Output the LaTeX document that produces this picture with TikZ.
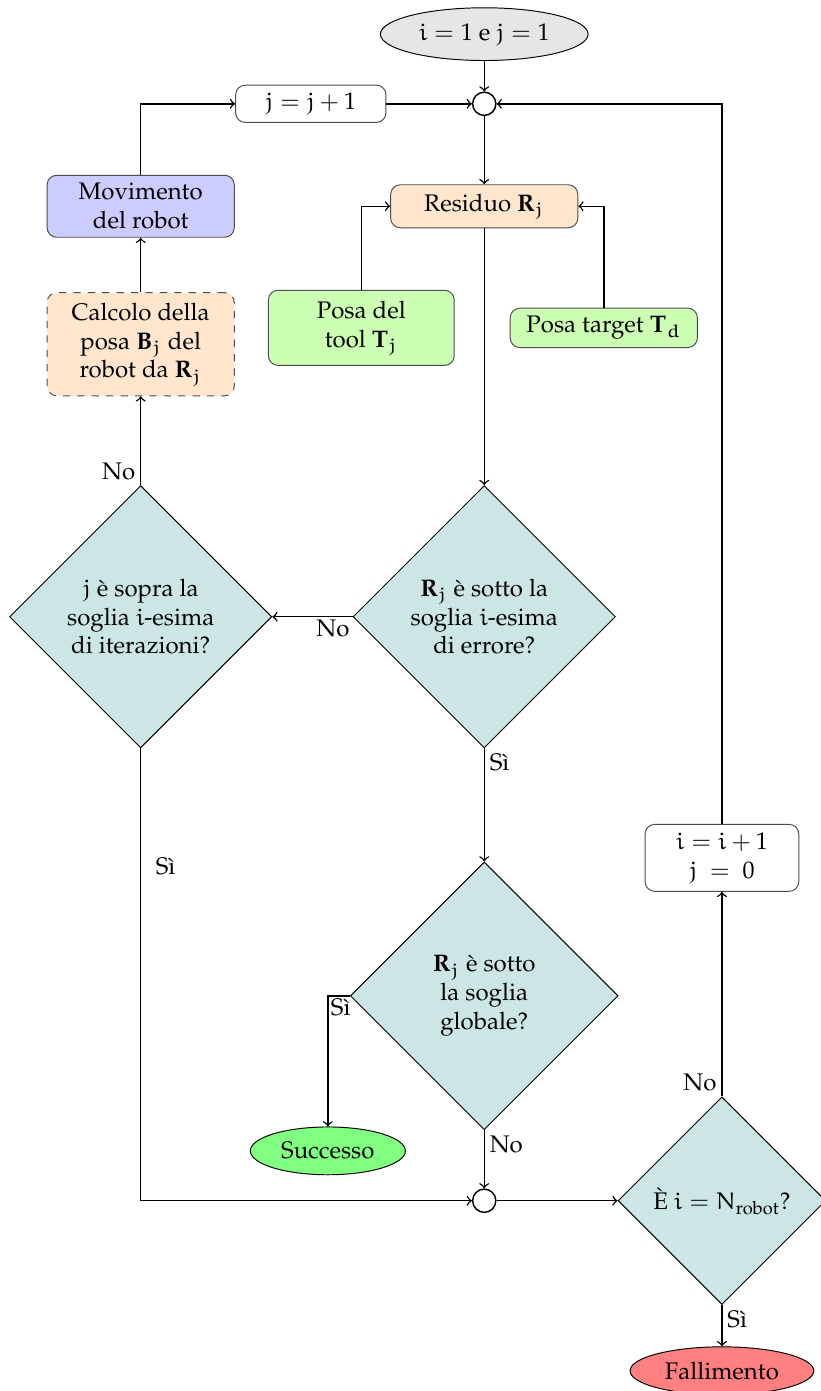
\documentclass[tikz,border=0pt]{standalone}
\usepackage[T1]{fontenc}
\usepackage{mathpazo}
\DeclareSymbolFont{letters}{U}{eur}{m}{n}
\SetSymbolFont{letters}{bold}{U}{eur}{b}{n}
\usepackage{tikz}
\usetikzlibrary{shapes.geometric}
\definecolor{startgray}{HTML}{E6E6E6}
\definecolor{movblue}{HTML}{CCCCFF}
\definecolor{calcorange}{HTML}{FFE6CC}
\definecolor{posegreen}{HTML}{CCFFB3}
\definecolor{decteal}{HTML}{CCE5E5}
\definecolor{okgreen}{HTML}{80FF80}
\definecolor{kored}{HTML}{FF8080}

\begin{document}
\begin{tikzpicture}[
		block/.style={rectangle, rounded corners=4pt, draw=black!70, thin, align=center, minimum width=2.74cm},
		decision/.style={diamond, aspect=1, draw, thin, fill=decteal, align=center, inner sep=1pt},
		terminal/.style={ellipse, draw, thin, align=center},
		junction/.style={circle, draw, semithick, fill=white, minimum size=0.34cm, inner sep=0pt},
		flow/.style={->, semithick}
	]
	\useasboundingbox (0,0) rectangle (12.006,-20.366);

	% ingresso e nodi di raccordo
	\node[terminal, fill=startgray, minimum width=3.02cm, minimum height=0.76cm] (start) at (7.09,-0.50) {$i = 1$ e $j = 1$};
	\node[junction] (c1) at (7.09,-1.52) {};
	\node[block, minimum width=2.2cm, minimum height=0.54cm] (jinc) at (4.55,-1.52) {$j = j + 1$};

	% residuo e pose
	\node[block, fill=movblue, minimum height=0.89cm] (mov) at (2.06,-3.02) {Movimento\\ del robot};
	\node[block, fill=calcorange, minimum height=0.63cm] (res) at (7.09,-3.02) {Residuo $\mathbf{R}_j$};
	\node[block, fill=posegreen, minimum width=2.72cm, minimum height=1.10cm] (tool) at (5.29,-4.80) {Posa del\\ tool $\mathbf{T}_j$};
	\node[block, fill=posegreen, minimum height=0.56cm] (target) at (8.84,-4.80) {Posa target $\mathbf{T}_d$};
	\node[block, dashed, fill=calcorange, minimum height=1.51cm] (calc) at (2.06,-5.04) {Calcolo della\\ posa $\mathbf{B}_j$ del\\ robot da $\mathbf{R}_j$};

	% decisioni
	\node[decision, minimum size=3.84cm] (iter) at (2.06,-9.03) {$j$ \`e sopra la\\ soglia $i$-esima\\ di iterazioni?};
	\node[decision, minimum size=3.84cm] (err) at (7.09,-9.03) {$\mathbf{R}_j$ \`e sotto la\\ soglia $i$-esima\\ di errore?};
	\node[block, minimum width=2.25cm, minimum height=0.98cm] (iinc) at (10.57,-12.56) {$i = i + 1$\\ $j\ =\ 0$};
	\node[decision, minimum size=3.92cm] (glob) at (7.09,-14.58) {$\mathbf{R}_j$ \`e sotto\\ la soglia\\ globale?};
	\node[terminal, fill=okgreen, minimum width=2.27cm, minimum height=0.70cm] (succ) at (4.80,-16.85) {Successo};
	\node[junction] (c2) at (7.09,-17.58) {};
	\node[decision, minimum size=3.04cm] (nrob) at (10.57,-17.58) {\`E $i = N_{\mathrm{robot}}$?};
	\node[terminal, fill=kored, minimum width=2.65cm, minimum height=0.64cm] (fail) at (10.57,-20.07) {Fallimento};

	% collegamenti
	\draw[flow] (start) -- (c1);
	\draw[flow] (c1) -- (res);
	\draw[flow] (tool) |- (res);
	\draw[flow] (target) |- (res);
	\draw[flow] (res) -- (err);
	\draw[flow] (err) -- node[pos=0, anchor=north east, inner sep=1pt] {No} (iter);
	\draw[flow] (iter) -- node[pos=0, anchor=south east, inner sep=2pt] {No} (calc);
	\draw[flow] (calc) -- (mov);
	\draw[flow] (mov) |- (jinc);
	\draw[flow] (jinc) -- (c1);
	\draw[flow] (err) -- node[pos=0, anchor=north west, inner sep=2pt] {S\`i} (glob);
	\draw[flow] (glob) -| node[pos=0.5, anchor=north west, inner sep=1pt] {S\`i} (succ);
	\draw[flow] (glob) -- node[pos=0, anchor=north west, inner sep=2pt] {No} (c2);
	\draw[flow] (iter) |- node[pos=0.13, anchor=west, inner sep=6pt] {S\`i} (c2);
	\draw[flow] (c2) -- (nrob);
	\draw[flow] (nrob) -- node[pos=0, anchor=south east, inner sep=2pt] {No} (iinc);
	\draw[flow] (iinc) |- (c1);
	\draw[flow] (nrob) -- node[pos=0, anchor=north west, inner sep=2pt] {S\`i} (fail);
\end{tikzpicture}
\end{document}
